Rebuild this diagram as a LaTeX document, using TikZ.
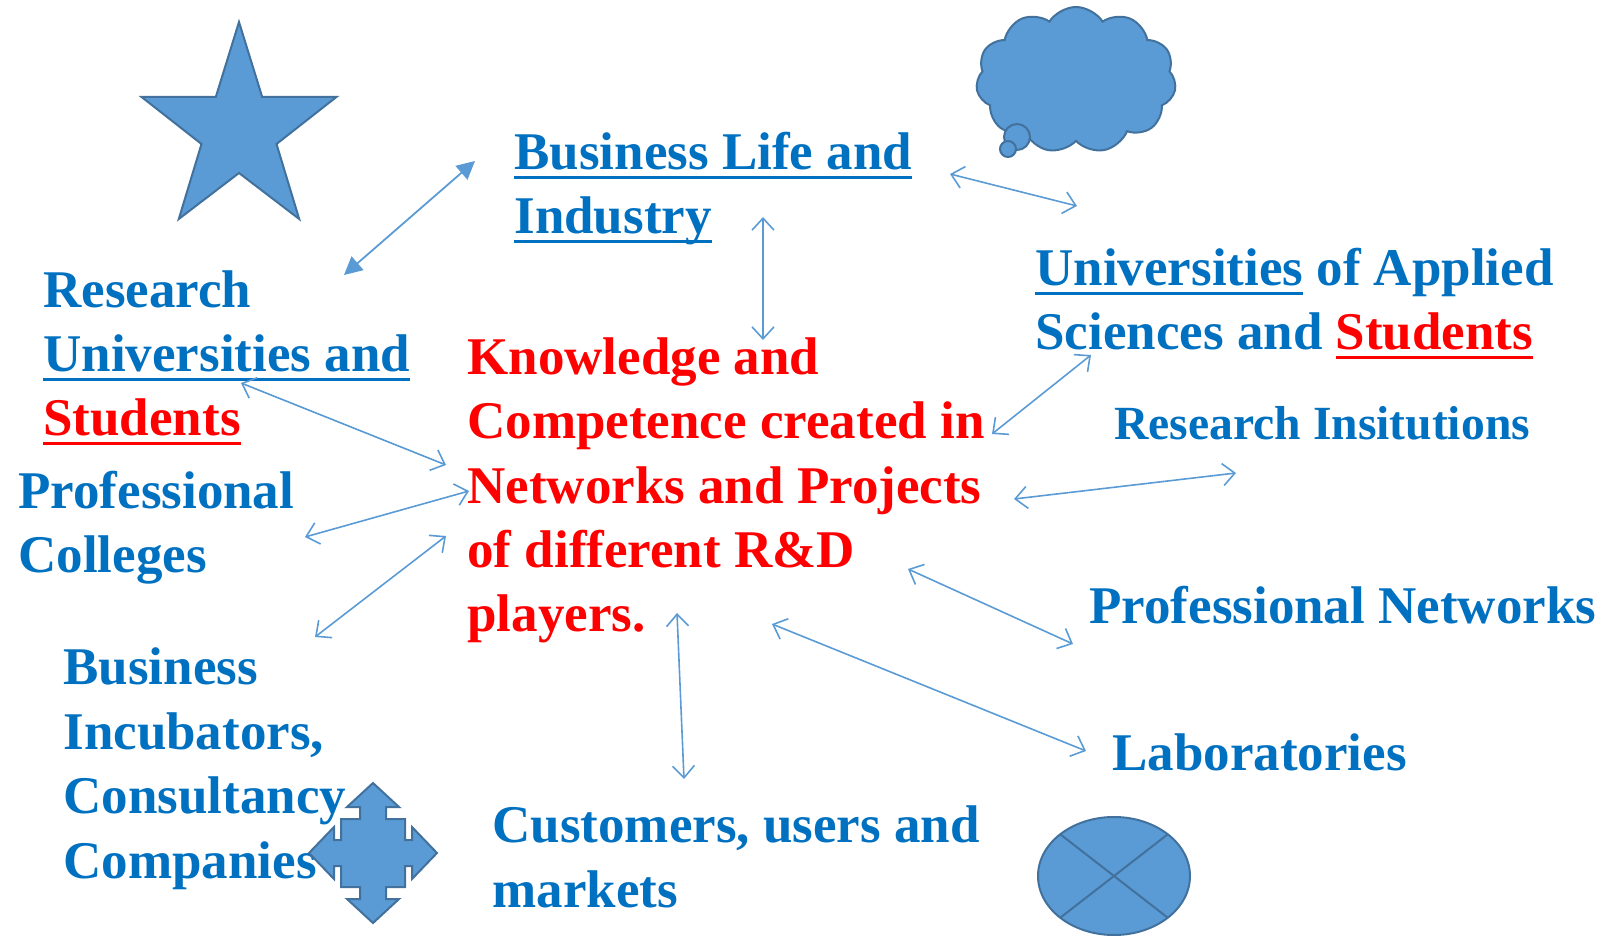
\documentclass[tikz,border=0pt]{standalone}
\usepackage{fontspec}
\setmainfont{Liberation Serif}
\usetikzlibrary{positioning,shapes,arrows.meta,calc}

\definecolor{tblue}{HTML}{0070C0}
\definecolor{tred}{HTML}{FF0000}
\definecolor{shfill}{HTML}{5B9BD5}
\definecolor{shline}{HTML}{41719C}
\definecolor{arrcol}{HTML}{5B9BD5}

\newsavebox\ulbox
\newcommand{\undl}[1]{\sbox\ulbox{#1}\rlap{\rule[-4.6pt]{\wd\ulbox}{1.5pt}}\usebox\ulbox}

\tikzset{
    lbl/.style={anchor=base west, inner sep=0pt, align=left, text=tblue, font=\bfseries\fontsize{26.5}{32.2}\selectfont},
    shp/.style={fill=shfill, draw=shline, line width=1pt},
    link/.style={draw=arrcol, line width=0.8pt, {Straight Barb[length=6pt,width=11pt]}-{Straight Barb[length=6pt,width=11pt]}},
    boldlink/.style={draw=arrcol, line width=0.9pt, {Triangle[length=9pt,width=9pt]}-{Triangle[length=9pt,width=9pt]}}
}

\begin{document}
\begin{tikzpicture}[x=0.5pt,y=-0.5pt]
            \useasboundingbox (0,0) rectangle (1603,936);

            % texts (placed at the baseline of their last line)
            \node[lbl] (life) at (514,234) {\undl{Business Life and}\\\undl{Industry}};
            \node[lbl] (resuni) at (43,436) {Research\\\undl{Universities and}\\{\color{tred}\undl{Students}}};
            \node[lbl] (profcol) at (18,573) {Professional\\Colleges};
            \node[lbl] (incub) at (63,878) {Business\\Incubators,\\Consultancy\\Companies};
            \node[lbl] (market) at (492,907) {Customers, users and\\markets};
            \node[lbl] (appsci) at (1035,350) {\undl{Universities} of Applied\\Sciences and {\color{tred}\undl{Students}}};
            \node[lbl, font=\bfseries\fontsize{23.8}{28}\selectfont] (resinst) at (1114,440) {Research Insitutions};
            \node[lbl] (profnet) at (1089,624) {Professional Networks};
            \node[lbl] (labs) at (1112,770) {Laboratories};
            \node[lbl, text=tred] (know) at (467,632) {Knowledge and\\Competence created in\\Networks and Projects\\of different R\&D\\players.};

            % shapes
            \draw[shp] (239,22) -- (215.8,97) -- (141.6,97) -- (201.5,144) -- (178.8,219) -- (239,173)
                -- (299.2,219) -- (276.5,144) -- (336.4,97) -- (262.2,97) -- cycle;
            \node[shp, cloud, cloud puffs=11, cloud puff arc=115, aspect=1.36, minimum width=100pt, minimum height=73pt, inner sep=0pt] (cloud) at (1076,80) {};
            \draw[shp] (1017,137) circle[radius=6.5pt];
            \draw[shp] (1008,149) circle[radius=4pt];
            \draw[shp, shift={(373,853)}] (0,-70) -- (26,-46) -- (13,-46) -- (13,-34) -- (32,-34) -- (32,-13) -- (39,-13) -- (39,-26)
                -- (64,0) -- (39,26) -- (39,13) -- (32,13) -- (32,34) -- (13,34) -- (13,46) -- (26,46) -- (0,70)
                -- (-26,46) -- (-13,46) -- (-13,34) -- (-32,34) -- (-32,13) -- (-39,13) -- (-39,26) -- (-64,0)
                -- (-39,-26) -- (-39,-13) -- (-32,-13) -- (-32,-34) -- (-13,-34) -- (-13,-46) -- (-26,-46) -- cycle;
            \node[shp, ellipse, minimum width=76pt, minimum height=59pt, inner sep=0pt] (globe) at (1114,876) {};
            \draw[shline, line width=1pt] ($(globe.center)+(45:38pt and 29.5pt)$) -- ($(globe.center)+(225:38pt and 29.5pt)$);
            \draw[shline, line width=1pt] ($(globe.center)+(135:38pt and 29.5pt)$) -- ($(globe.center)+(315:38pt and 29.5pt)$);

            % arrow ends
            \coordinate (star-a) at (344,275);  \coordinate (star-b) at (475,161);
            \coordinate (cld-a) at (950,174);   \coordinate (cld-b) at (1077,206);
            \coordinate (life-a) at (763,217);  \coordinate (life-b) at (763,340);
            \coordinate (uni-a) at (241,383);   \coordinate (uni-b) at (446,465);
            \coordinate (col-a) at (305,537);   \coordinate (col-b) at (469,491);
            \coordinate (inc-a) at (315,637);   \coordinate (inc-b) at (446,536);
            \coordinate (sci-a) at (1091,355);  \coordinate (sci-b) at (992,434);
            \coordinate (ins-a) at (1014,499);  \coordinate (ins-b) at (1236,473);
            \coordinate (net-a) at (908,569);   \coordinate (net-b) at (1073,644);
            \coordinate (lab-a) at (772,624);   \coordinate (lab-b) at (1086,751);
            \coordinate (mkt-a) at (677,613);   \coordinate (mkt-b) at (684,779);

            \draw[boldlink] (star-a) -- (star-b);
            \draw[link] (cld-a) -- (cld-b);
            \draw[link] (life-a) -- (life-b);
            \draw[link] (uni-a) -- (uni-b);
            \draw[link] (col-a) -- (col-b);
            \draw[link] (inc-a) -- (inc-b);
            \draw[link] (sci-a) -- (sci-b);
            \draw[link] (ins-a) -- (ins-b);
            \draw[link] (net-a) -- (net-b);
            \draw[link] (lab-a) -- (lab-b);
            \draw[link] (mkt-a) -- (mkt-b);
        \end{tikzpicture}
\end{document}
